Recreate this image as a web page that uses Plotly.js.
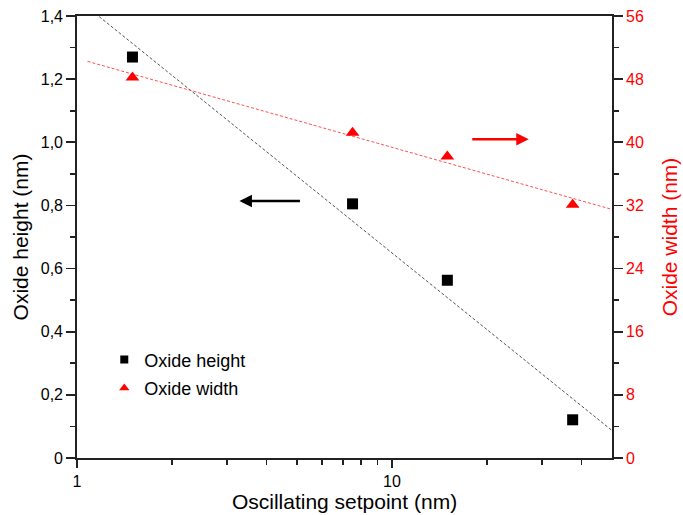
<!DOCTYPE html>
<html>
<head>
<meta charset="utf-8">
<script src="https://cdn.plot.ly/plotly-3.0.1.min.js"></script>
<style>html,body{margin:0;padding:0;background:#fff;}#chart{width:683px;height:515px;}</style>
</head>
<body>
<div id="chart"></div>
<script>
// Data
const setpoint = [1.5, 7.5, 15, 37.5];          // Oscillating setpoint (nm)
const oxideHeight = [1.27, 0.805, 0.563, 0.121]; // nm, left axis
const oxideWidth = [48.2, 41.2, 38.2, 32.1];     // nm, right axis
const fitSpan = [1.08, 50];                      // x span of the fit lines

const yTickVals = [0, 0.2, 0.4, 0.6, 0.8, 1.0, 1.2, 1.4];
const yTickText = ['0', '0,2', '0,4', '0,6', '0,8', '1,0', '1,2', '1,4'];
const y2TickVals = [0, 8, 16, 24, 32, 40, 48, 56];
const xTickVals = [1, 10];
const xTickText = ['1', '10'];
const xMinorVals = [2, 3, 4, 5, 6, 7, 8, 9, 20, 30, 40];

// Arrow heads (data coords) pointing to each series' axis
const arrowLeft = {x: 3.28, y: 0.814};
const arrowRight = {x: 27.2, y: 40.4};

// Linear fit of y vs log10(x)
function fitLog(xs, ys) {
  const lx = xs.map(v => Math.log10(v));
  const n = lx.length;
  const mx = lx.reduce((a, b) => a + b, 0) / n;
  const my = ys.reduce((a, b) => a + b, 0) / n;
  let sxy = 0, sxx = 0;
  for (let i = 0; i < n; i++) { sxy += (lx[i] - mx) * (ys[i] - my); sxx += (lx[i] - mx) ** 2; }
  const b = sxy / sxx, a = my - b * mx;
  return x => a + b * Math.log10(x);
}
const fH = fitLog(setpoint, oxideHeight);
const fW = fitLog(setpoint, oxideWidth);

const FONT = 'Liberation Sans, Arial, Helvetica, sans-serif';
const AX = '#222';
const LW = 1.8;

const traces = [
  {x: fitSpan, y: fitSpan.map(fH), mode: 'lines', line: {color: '#555', width: 1, dash: '3px,2px'}, showlegend: false, hoverinfo: 'skip'},
  {x: fitSpan, y: fitSpan.map(fW), yaxis: 'y2', mode: 'lines', line: {color: '#ff5050', width: 1, dash: '3px,2px'}, showlegend: false, hoverinfo: 'skip'},
  {x: setpoint, y: oxideHeight, name: 'Oxide height', mode: 'markers', marker: {symbol: 'square', size: 11, color: '#000'}, showlegend: false},
  {x: setpoint, y: oxideWidth, name: 'Oxide width', yaxis: 'y2', mode: 'markers', marker: {symbol: 'triangle-up', size: 12, color: '#ff0000'}, showlegend: false},
  // legend entries (smaller legend symbols, as in the reference)
  {x: [null], y: [null], name: 'Oxide height', mode: 'markers', marker: {symbol: 'square', size: 8, color: '#000'}, legendgroup: 'a'},
  {x: [null], y: [null], name: 'Oxide width', yaxis: 'y2', mode: 'markers', marker: {symbol: 'triangle-up', size: 9, color: '#ff0000'}, legendgroup: 'b'}
];

const layout = {
  width: 683, height: 515,
  margin: {l: 77, r: 71, t: 16, b: 57},
  paper_bgcolor: '#fff', plot_bgcolor: '#fff',
  font: {family: FONT, size: 16, color: '#000'},
  showlegend: true,
  legend: {x: 0.051, y: 0.264, xanchor: 'left', yanchor: 'top', bgcolor: 'rgba(0,0,0,0)', font: {size: 18}, tracegroupgap: 2, traceorder: 'grouped', itemwidth: 30},
  xaxis: {
    type: 'log', range: [0, Math.log10(50)],
    tickmode: 'array', tickvals: xTickVals, ticktext: xTickText,
    ticks: 'outside', ticklen: 8, tickwidth: LW, tickcolor: AX,
    minor: {tickmode: 'array', tickvals: xMinorVals, ticks: 'outside', ticklen: 5, tickwidth: LW, tickcolor: AX},
    showline: true, linecolor: AX, linewidth: LW, mirror: true,
    showgrid: false, zeroline: false,
    tickfont: {size: 16},
    title: {text: 'Oscillating setpoint (nm)', font: {size: 21}, standoff: 4}
  },
  yaxis: {
    range: [0, 1.4],
    tickmode: 'array', tickvals: yTickVals, ticktext: yTickText,
    ticks: 'outside', ticklen: 9, tickwidth: LW, tickcolor: AX,
    minor: {dtick: 0.1, ticks: 'outside', ticklen: 5, tickwidth: LW, tickcolor: AX},
    showline: true, linecolor: AX, linewidth: LW,
    showgrid: false, zeroline: false,
    tickfont: {size: 16},
    title: {text: 'Oxide height (nm)', font: {size: 21}, standoff: 6}
  },
  yaxis2: {
    overlaying: 'y', side: 'right',
    range: [0, 56],
    tickmode: 'array', tickvals: y2TickVals,
    ticks: 'outside', ticklen: 9, tickwidth: LW, tickcolor: AX,
    minor: {dtick: 4, ticks: 'outside', ticklen: 5, tickwidth: LW, tickcolor: AX},
    showline: true, linecolor: AX, linewidth: LW,
    showgrid: false, zeroline: false,
    tickfont: {size: 16, color: '#ff0000'},
    title: {text: 'Oxide width (nm)', font: {size: 21, color: '#ff0000'}, standoff: 19}
  },
  annotations: [
    {xref: 'x', yref: 'y', x: Math.log10(arrowLeft.x), y: arrowLeft.y, ax: 62, ay: 0, axref: 'pixel', ayref: 'pixel',
     showarrow: true, arrowhead: 2, arrowsize: 1, arrowwidth: 2.5, arrowcolor: '#000', text: ''},
    {xref: 'x', yref: 'y2', x: Math.log10(arrowRight.x), y: arrowRight.y, ax: -58, ay: 0, axref: 'pixel', ayref: 'pixel',
     showarrow: true, arrowhead: 2, arrowsize: 1, arrowwidth: 2.5, arrowcolor: '#ff0000', text: ''}
  ]
};

Plotly.newPlot('chart', traces, layout, {displayModeBar: false, staticPlot: true});
</script>
</body>
</html>
